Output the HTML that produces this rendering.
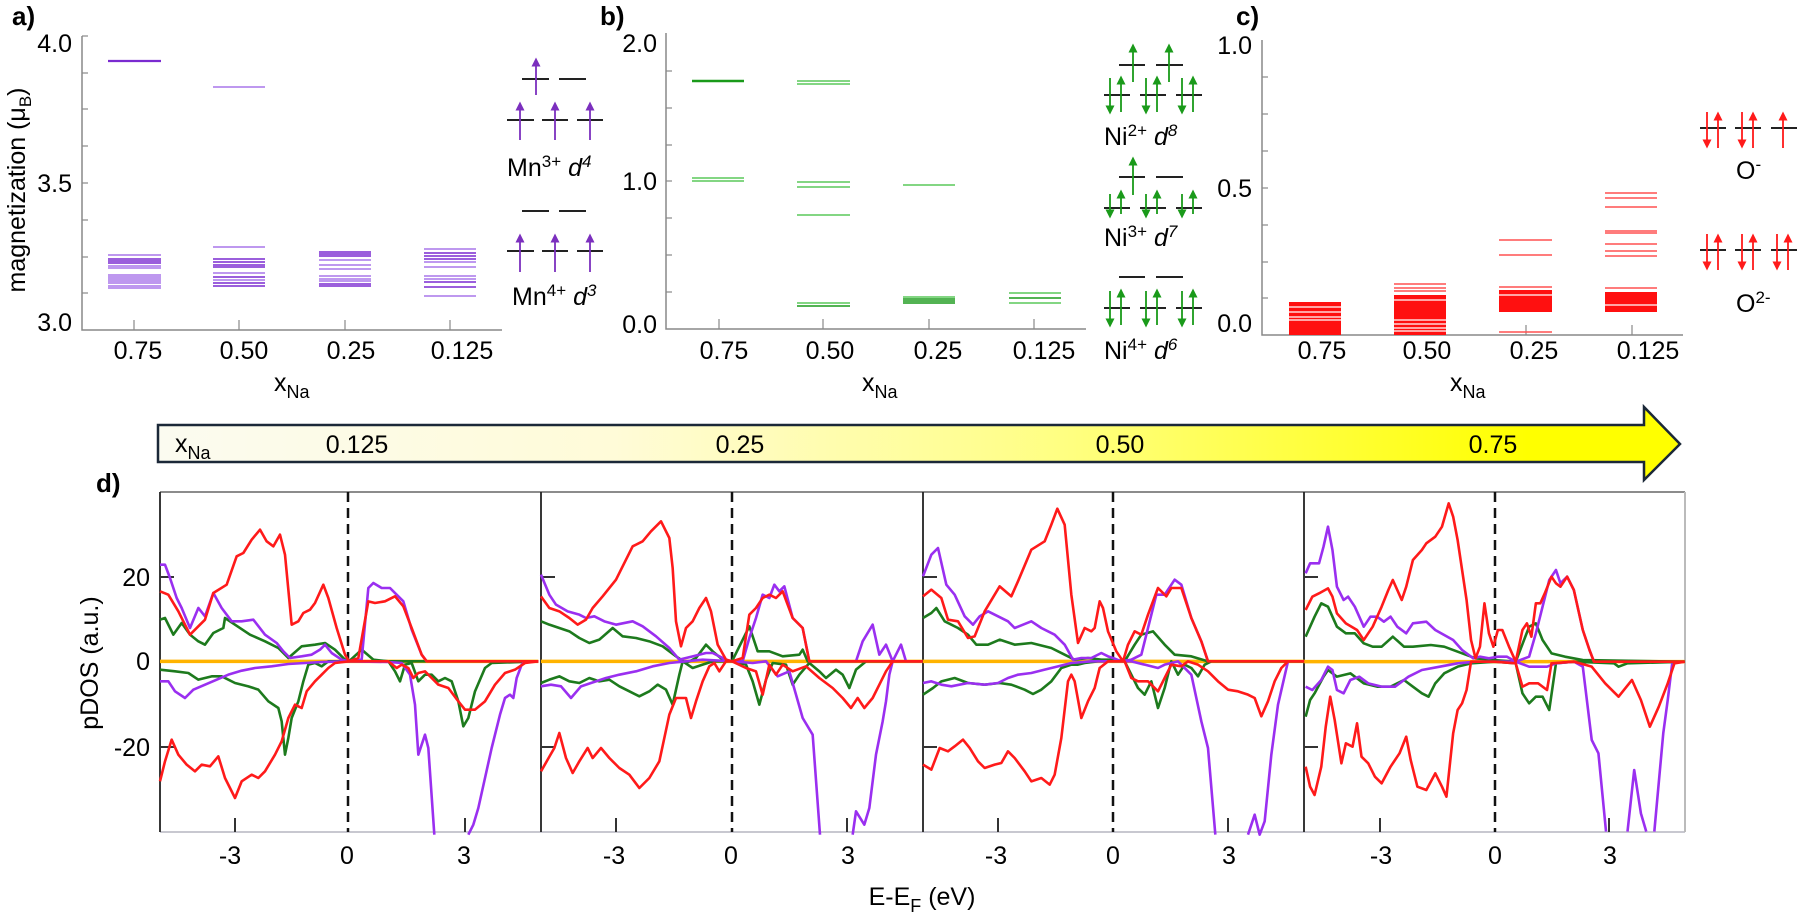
<!DOCTYPE html>
<html><head><meta charset="utf-8">
<style>
html,body{margin:0;padding:0;background:#fff;}
svg{display:block;font-family:"Liberation Sans",Arial,sans-serif;}
.t{font-size:25px;fill:#000;}
.lb{font-size:26px;font-weight:bold;fill:#000;}
.c{stroke-width:2.6;fill:none;vector-effect:non-scaling-stroke;stroke-linejoin:round;}
.r{stroke:#ff1a1a}.p{stroke:#9a2ff0}.g{stroke:#1d7a1d}.o{stroke:#ffb300;stroke-width:3.5}
.ax{stroke:#888;stroke-width:1.5;fill:none}
</style></head><body>
<svg width="1801" height="913" viewBox="0 0 1801 913">
<defs>
<marker id="mp" viewBox="0 0 10 10" refX="5" refY="5" markerWidth="9" markerHeight="9" orient="auto" markerUnits="userSpaceOnUse"><path d="M0,0 L10,5 L0,10 z" fill="#7b2fbe"/></marker>
<marker id="mg" viewBox="0 0 10 10" refX="5" refY="5" markerWidth="9" markerHeight="9" orient="auto" markerUnits="userSpaceOnUse"><path d="M0,0 L10,5 L0,10 z" fill="#1a9a1a"/></marker>
<marker id="mr" viewBox="0 0 10 10" refX="5" refY="5" markerWidth="9" markerHeight="9" orient="auto" markerUnits="userSpaceOnUse"><path d="M0,0 L10,5 L0,10 z" fill="#ff1a1a"/></marker>
<linearGradient id="yg" x1="0" x2="1" y1="0" y2="0">
<stop offset="0" stop-color="#fbfbf0"/><stop offset="0.3" stop-color="#fffbd8"/><stop offset="0.6" stop-color="#ffff80"/><stop offset="0.9" stop-color="#ffff00"/><stop offset="1" stop-color="#ffff00"/></linearGradient>
</defs>

<!-- ===== Panel a ===== -->
<text class="lb" x="12" y="25">a)</text>
<path class="ax" d="M82,36 V330 H502"/>
<g stroke="#888" stroke-width="1.2">
<line x1="82" y1="36" x2="88" y2="36"/><line x1="82" y1="73" x2="88" y2="73"/><line x1="82" y1="109" x2="88" y2="109"/><line x1="82" y1="146" x2="88" y2="146"/><line x1="82" y1="183" x2="88" y2="183"/><line x1="82" y1="220" x2="88" y2="220"/><line x1="82" y1="257" x2="88" y2="257"/><line x1="82" y1="293" x2="88" y2="293"/>
<line x1="134" y1="330" x2="134" y2="320"/><line x1="239" y1="330" x2="239" y2="320"/><line x1="345" y1="330" x2="345" y2="320"/><line x1="450" y1="330" x2="450" y2="320"/>
</g>
<text class="t" x="72" y="52" text-anchor="end">4.0</text>
<text class="t" x="72" y="192" text-anchor="end">3.5</text>
<text class="t" x="72" y="331" text-anchor="end">3.0</text>
<text class="t" x="17" y="190" text-anchor="middle" transform="rotate(-90 17 190)" dy="8">magnetization (μ<tspan font-size="17" dy="6">B</tspan><tspan dy="-6">)</tspan></text>
<g class="t" text-anchor="middle"><text x="138" y="359">0.75</text><text x="244" y="359">0.50</text><text x="351" y="359">0.25</text><text x="462" y="359">0.125</text></g>
<text class="t" x="274" y="391">x<tspan font-size="18" dy="7">Na</tspan></text>
<g stroke-width="1.6">
<g stroke="#7a2ad0"><line x1="108" x2="161" y1="61" y2="61" stroke-width="2.2"/>
<line x1="108" x2="161" y1="259" y2="259"/><line x1="108" x2="161" y1="261" y2="261"/><line x1="108" x2="161" y1="263" y2="263"/></g>
<g stroke="#a876ea"><line x1="108" x2="161" y1="255" y2="255"/><line x1="108" x2="161" y1="266" y2="266"/><line x1="108" x2="161" y1="268" y2="268"/><line x1="108" x2="161" y1="275" y2="275"/><line x1="108" x2="161" y1="277" y2="277"/><line x1="108" x2="161" y1="279" y2="279"/><line x1="108" x2="161" y1="281" y2="281"/><line x1="108" x2="161" y1="283" y2="283"/><line x1="108" x2="161" y1="286" y2="286"/><line x1="108" x2="161" y1="288" y2="288"/></g>
<g stroke="#a876ea"><line x1="213" x2="265" y1="87" y2="87"/><line x1="213" x2="265" y1="247" y2="247"/><line x1="213" x2="265" y1="273" y2="273"/><line x1="213" x2="265" y1="280" y2="280"/></g>
<g stroke="#7a2ad0"><line x1="213" x2="265" y1="259" y2="259"/><line x1="213" x2="265" y1="262" y2="262"/><line x1="213" x2="265" y1="265" y2="265"/><line x1="213" x2="265" y1="267" y2="267"/><line x1="213" x2="265" y1="277" y2="277"/><line x1="213" x2="265" y1="283" y2="283"/><line x1="213" x2="265" y1="286" y2="286"/></g>
<g stroke="#7a2ad0"><line x1="319" x2="371" y1="252" y2="252"/><line x1="319" x2="371" y1="254" y2="254"/><line x1="319" x2="371" y1="256" y2="256"/><line x1="319" x2="371" y1="284" y2="284"/><line x1="319" x2="371" y1="286" y2="286"/></g>
<g stroke="#a876ea"><line x1="319" x2="371" y1="260" y2="260"/><line x1="319" x2="371" y1="265" y2="265"/><line x1="319" x2="371" y1="269" y2="269"/><line x1="319" x2="371" y1="276" y2="276"/><line x1="319" x2="371" y1="279" y2="279"/><line x1="319" x2="371" y1="281" y2="281"/></g>
<g stroke="#7a2ad0"><line x1="424" x2="476" y1="253" y2="253"/><line x1="424" x2="476" y1="256" y2="256"/><line x1="424" x2="476" y1="259" y2="259"/><line x1="424" x2="476" y1="282" y2="282"/><line x1="424" x2="476" y1="287" y2="287"/></g>
<g stroke="#a876ea"><line x1="424" x2="476" y1="249" y2="249"/><line x1="424" x2="476" y1="262" y2="262"/><line x1="424" x2="476" y1="267" y2="267"/><line x1="424" x2="476" y1="276" y2="276"/><line x1="424" x2="476" y1="279" y2="279"/><line x1="424" x2="476" y1="296" y2="296"/></g>
</g>
<!-- Mn diagrams -->
<g stroke="#222" stroke-width="2">
<line x1="522" x2="549" y1="79" y2="79"/><line x1="559" x2="586" y1="79" y2="79"/>
<line x1="507" x2="534" y1="120" y2="120"/><line x1="542" x2="568" y1="120" y2="120"/><line x1="577" x2="603" y1="120" y2="120"/>
<line x1="522" x2="549" y1="211" y2="211"/><line x1="559" x2="586" y1="211" y2="211"/>
<line x1="507" x2="534" y1="251" y2="251"/><line x1="542" x2="568" y1="251" y2="251"/><line x1="577" x2="603" y1="251" y2="251"/>
</g>
<g stroke="#7b2fbe" stroke-width="1.8" marker-end="url(#mp)">
<line x1="536" y1="95" x2="536" y2="62"/>
<line x1="520" y1="140" x2="520" y2="106"/><line x1="555" y1="140" x2="555" y2="106"/><line x1="590" y1="140" x2="590" y2="106"/>
<line x1="520" y1="272" x2="520" y2="238"/><line x1="555" y1="272" x2="555" y2="238"/><line x1="590" y1="272" x2="590" y2="238"/>
</g>
<text class="t" x="507" y="176">Mn<tspan font-size="17" dy="-9">3+</tspan><tspan dy="9"> </tspan><tspan font-style="italic">d</tspan><tspan font-size="17" dy="-9" font-style="italic">4</tspan></text>
<text class="t" x="512" y="305">Mn<tspan font-size="17" dy="-9">4+</tspan><tspan dy="9"> </tspan><tspan font-style="italic">d</tspan><tspan font-size="17" dy="-9" font-style="italic">3</tspan></text>

<!-- ===== Panel b ===== -->
<text class="lb" x="600" y="25">b)</text>
<path class="ax" d="M666,33 V329 H1086"/>
<g stroke="#888" stroke-width="1.2">
<line x1="666" y1="71" x2="672" y2="71"/><line x1="666" y1="108" x2="672" y2="108"/><line x1="666" y1="145" x2="672" y2="145"/><line x1="666" y1="181" x2="672" y2="181"/><line x1="666" y1="218" x2="672" y2="218"/><line x1="666" y1="255" x2="672" y2="255"/><line x1="666" y1="292" x2="672" y2="292"/>
<line x1="719" y1="329" x2="719" y2="319"/><line x1="823" y1="329" x2="823" y2="319"/><line x1="929" y1="329" x2="929" y2="319"/><line x1="1034" y1="329" x2="1034" y2="319"/>
</g>
<text class="t" x="657" y="52" text-anchor="end">2.0</text>
<text class="t" x="657" y="190" text-anchor="end">1.0</text>
<text class="t" x="657" y="333" text-anchor="end">0.0</text>
<g class="t" text-anchor="middle"><text x="724" y="359">0.75</text><text x="830" y="359">0.50</text><text x="938" y="359">0.25</text><text x="1044" y="359">0.125</text></g>
<text class="t" x="862" y="391">x<tspan font-size="18" dy="7">Na</tspan></text>
<g stroke-width="1.6">
<g stroke="#1a9a1a"><line x1="692" x2="744" y1="81" y2="81" stroke-width="2.4"/><line x1="903" x2="955" y1="299" y2="299"/><line x1="903" x2="955" y1="301" y2="301"/><line x1="903" x2="955" y1="303" y2="303"/><line x1="797" x2="850" y1="306" y2="306"/><line x1="1009" x2="1061" y1="298" y2="298"/></g>
<g stroke="#5ac85a"><line x1="692" x2="744" y1="178" y2="178"/><line x1="692" x2="744" y1="181" y2="181"/>
<line x1="797" x2="850" y1="81" y2="81"/><line x1="797" x2="850" y1="84" y2="84"/><line x1="797" x2="850" y1="182" y2="182"/><line x1="797" x2="850" y1="187" y2="187"/><line x1="797" x2="850" y1="215" y2="215"/><line x1="797" x2="850" y1="303" y2="303"/>
<line x1="903" x2="955" y1="185" y2="185"/><line x1="903" x2="955" y1="297" y2="297"/>
<line x1="1009" x2="1061" y1="293" y2="293"/><line x1="1009" x2="1061" y1="303" y2="303"/></g>
</g>
<!-- Ni diagrams -->
<g stroke="#222" stroke-width="2">
<line x1="1119" x2="1145" y1="65" y2="65"/><line x1="1156" x2="1183" y1="65" y2="65"/>
<line x1="1104" x2="1130" y1="95" y2="95"/><line x1="1140" x2="1166" y1="95" y2="95"/><line x1="1176" x2="1202" y1="95" y2="95"/>
<line x1="1119" x2="1145" y1="177" y2="177"/><line x1="1156" x2="1183" y1="177" y2="177"/>
<line x1="1104" x2="1130" y1="208" y2="208"/><line x1="1140" x2="1166" y1="208" y2="208"/><line x1="1176" x2="1202" y1="208" y2="208"/>
<line x1="1119" x2="1145" y1="277" y2="277"/><line x1="1156" x2="1183" y1="277" y2="277"/>
<line x1="1104" x2="1130" y1="308" y2="308"/><line x1="1140" x2="1166" y1="308" y2="308"/><line x1="1176" x2="1202" y1="308" y2="308"/>
</g>
<g stroke="#1a9a1a" stroke-width="1.8" marker-end="url(#mg)">
<line x1="1133" y1="82" x2="1133" y2="48"/><line x1="1169" y1="82" x2="1169" y2="48"/>
<line x1="1110" y1="78" x2="1110" y2="110"/><line x1="1121" y1="112" x2="1121" y2="80"/>
<line x1="1146" y1="78" x2="1146" y2="110"/><line x1="1157" y1="112" x2="1157" y2="80"/>
<line x1="1182" y1="78" x2="1182" y2="110"/><line x1="1193" y1="112" x2="1193" y2="80"/>
<line x1="1133" y1="195" x2="1133" y2="161"/>
<line x1="1110" y1="194" x2="1110" y2="214"/><line x1="1121" y1="214" x2="1121" y2="194"/>
<line x1="1146" y1="194" x2="1146" y2="214"/><line x1="1157" y1="214" x2="1157" y2="194"/>
<line x1="1182" y1="194" x2="1182" y2="214"/><line x1="1193" y1="214" x2="1193" y2="194"/>
<line x1="1110" y1="291" x2="1110" y2="323"/><line x1="1121" y1="325" x2="1121" y2="293"/>
<line x1="1146" y1="291" x2="1146" y2="323"/><line x1="1157" y1="325" x2="1157" y2="293"/>
<line x1="1182" y1="291" x2="1182" y2="323"/><line x1="1193" y1="325" x2="1193" y2="293"/>
</g>
<text class="t" x="1104" y="145">Ni<tspan font-size="17" dy="-9">2+</tspan><tspan dy="9"> </tspan><tspan font-style="italic">d</tspan><tspan font-size="17" dy="-9" font-style="italic">8</tspan></text>
<text class="t" x="1104" y="246">Ni<tspan font-size="17" dy="-9">3+</tspan><tspan dy="9"> </tspan><tspan font-style="italic">d</tspan><tspan font-size="17" dy="-9" font-style="italic">7</tspan></text>
<text class="t" x="1104" y="359">Ni<tspan font-size="17" dy="-9">4+</tspan><tspan dy="9"> </tspan><tspan font-style="italic">d</tspan><tspan font-size="17" dy="-9" font-style="italic">6</tspan></text>

<!-- ===== Panel c ===== -->
<text class="lb" x="1236" y="25">c)</text>
<path class="ax" d="M1262,40 V335 H1683"/>
<g stroke="#888" stroke-width="1.2">
<line x1="1262" y1="77" x2="1268" y2="77"/><line x1="1262" y1="114" x2="1268" y2="114"/><line x1="1262" y1="151" x2="1268" y2="151"/><line x1="1262" y1="188" x2="1268" y2="188"/><line x1="1262" y1="225" x2="1268" y2="225"/><line x1="1262" y1="262" x2="1268" y2="262"/><line x1="1262" y1="298" x2="1268" y2="298"/>
<line x1="1315" y1="335" x2="1315" y2="325"/><line x1="1420" y1="335" x2="1420" y2="325"/><line x1="1526" y1="335" x2="1526" y2="325"/><line x1="1632" y1="335" x2="1632" y2="325"/>
</g>
<text class="t" x="1252" y="54" text-anchor="end">1.0</text>
<text class="t" x="1252" y="197" text-anchor="end">0.5</text>
<text class="t" x="1252" y="332" text-anchor="end">0.0</text>
<g class="t" text-anchor="middle"><text x="1322" y="359">0.75</text><text x="1427" y="359">0.50</text><text x="1534" y="359">0.25</text><text x="1648" y="359">0.125</text></g>
<text class="t" x="1450" y="391">x<tspan font-size="18" dy="7">Na</tspan></text>
<g fill="#ff1010">
<rect x="1289" y="302" width="52" height="33"/>
<rect x="1394" y="295" width="52" height="40"/>
<rect x="1499" y="290" width="53" height="22"/>
<rect x="1605" y="292" width="52" height="20"/>
</g>
<g stroke="#fff" stroke-width="1.2">
<line x1="1289" x2="1341" y1="307" y2="307"/><line x1="1289" x2="1341" y1="312" y2="312"/><line x1="1289" x2="1341" y1="317" y2="317"/><line x1="1289" x2="1341" y1="320" y2="320"/>
<line x1="1394" x2="1446" y1="300" y2="300"/><line x1="1394" x2="1446" y1="320" y2="320"/><line x1="1394" x2="1446" y1="324" y2="324"/><line x1="1394" x2="1446" y1="328" y2="328"/><line x1="1394" x2="1446" y1="331" y2="331"/>
<line x1="1499" x2="1552" y1="295" y2="295"/><line x1="1605" x2="1657" y1="305" y2="305"/>
</g>
<g stroke="#ff5050" stroke-width="1.5">
<line x1="1394" x2="1446" y1="284" y2="284"/><line x1="1394" x2="1446" y1="288" y2="288"/><line x1="1394" x2="1446" y1="291" y2="291"/>
<line x1="1499" x2="1552" y1="240" y2="240"/><line x1="1499" x2="1552" y1="255" y2="255"/><line x1="1499" x2="1552" y1="332" y2="332"/><line x1="1499" x2="1552" y1="287" y2="287"/>
<line x1="1605" x2="1657" y1="193" y2="193"/><line x1="1605" x2="1657" y1="198" y2="198"/><line x1="1605" x2="1657" y1="207" y2="207"/><line x1="1605" x2="1657" y1="231" y2="231"/><line x1="1605" x2="1657" y1="233" y2="233"/><line x1="1605" x2="1657" y1="244" y2="244"/><line x1="1605" x2="1657" y1="251" y2="251"/><line x1="1605" x2="1657" y1="256" y2="256"/><line x1="1605" x2="1657" y1="288" y2="288"/>
</g>
<!-- O diagrams -->
<g stroke="#222" stroke-width="2">
<line x1="1700" x2="1726" y1="128" y2="128"/><line x1="1735" x2="1761" y1="128" y2="128"/><line x1="1771" x2="1797" y1="128" y2="128"/>
<line x1="1700" x2="1726" y1="250" y2="250"/><line x1="1735" x2="1761" y1="250" y2="250"/><line x1="1771" x2="1797" y1="250" y2="250"/>
</g>
<g stroke="#ff1a1a" stroke-width="1.8" marker-end="url(#mr)">
<line x1="1707" y1="112" x2="1707" y2="144"/><line x1="1718" y1="148" x2="1718" y2="116"/>
<line x1="1742" y1="112" x2="1742" y2="144"/><line x1="1753" y1="148" x2="1753" y2="116"/>
<line x1="1783" y1="148" x2="1783" y2="116"/>
<line x1="1707" y1="234" x2="1707" y2="266"/><line x1="1718" y1="270" x2="1718" y2="238"/>
<line x1="1742" y1="234" x2="1742" y2="266"/><line x1="1753" y1="270" x2="1753" y2="238"/>
<line x1="1777" y1="234" x2="1777" y2="266"/><line x1="1788" y1="270" x2="1788" y2="238"/>
</g>
<text class="t" x="1736" y="179">O<tspan font-size="17" dy="-9">-</tspan></text>
<text class="t" x="1736" y="312">O<tspan font-size="17" dy="-9">2-</tspan></text>

<!-- ===== Gradient arrow ===== -->
<polygon points="158,425 1644,425 1644,407 1680,444 1644,480 1644,462 158,462" fill="url(#yg)" stroke="#1b2838" stroke-width="2.5" stroke-linejoin="miter"/>
<text class="t" x="175" y="452">x<tspan font-size="18" dy="7">Na</tspan></text>
<g class="t" text-anchor="middle"><text x="357" y="453">0.125</text><text x="740" y="453">0.25</text><text x="1120" y="453">0.50</text><text x="1493" y="453">0.75</text></g>

<!-- ===== Panel d ===== -->
<text class="lb" x="96" y="492">d)</text>
<text class="t" x="90" y="663" text-anchor="middle" transform="rotate(-90 90 663)" dy="8">pDOS (a.u.)</text>
<text class="t" x="150" y="586" text-anchor="end">20</text>
<text class="t" x="150" y="670" text-anchor="end">0</text>
<text class="t" x="150" y="756" text-anchor="end">-20</text>
<text class="t" x="922" y="905" text-anchor="middle">E-E<tspan font-size="18" dy="7">F</tspan><tspan dy="-7"> (eV)</tspan></text>
<g class="t" text-anchor="middle">
<text x="230" y="864">-3</text><text x="347" y="864">0</text><text x="464" y="864">3</text>
<text x="614" y="864">-3</text><text x="731" y="864">0</text><text x="848" y="864">3</text>
<text x="996" y="864">-3</text><text x="1113" y="864">0</text><text x="1229" y="864">3</text>
<text x="1381" y="864">-3</text><text x="1495" y="864">0</text><text x="1610" y="864">3</text>
</g>
<!-- frames -->
<line x1="160" y1="492" x2="1685" y2="492" stroke="#666" stroke-width="1.5"/>
<line x1="160" y1="832" x2="1685" y2="832" stroke="#c8c8d0" stroke-width="2"/>
<line x1="1685" y1="492" x2="1685" y2="832" stroke="#bbb" stroke-width="2"/>
<g stroke="#222" stroke-width="1.8">
<line x1="160" y1="492" x2="160" y2="832"/><line x1="541" y1="492" x2="541" y2="832"/><line x1="923" y1="492" x2="923" y2="832"/><line x1="1304" y1="492" x2="1304" y2="832"/>
</g>
<g stroke="#333" stroke-width="2">
<line x1="160" y1="577" x2="174" y2="577"/><line x1="160" y1="747" x2="174" y2="747"/>
<line x1="541" y1="577" x2="555" y2="577"/><line x1="541" y1="747" x2="555" y2="747"/>
<line x1="923" y1="577" x2="937" y2="577"/><line x1="923" y1="747" x2="937" y2="747"/>
<line x1="1304" y1="577" x2="1318" y2="577"/><line x1="1304" y1="747" x2="1318" y2="747"/>
<line x1="235" y1="832" x2="235" y2="818"/><line x1="465" y1="832" x2="465" y2="818"/>
<line x1="616" y1="832" x2="616" y2="818"/><line x1="847" y1="832" x2="847" y2="818"/>
<line x1="998" y1="832" x2="998" y2="818"/><line x1="1228" y1="832" x2="1228" y2="818"/>
<line x1="1380" y1="832" x2="1380" y2="818"/><line x1="1609" y1="832" x2="1609" y2="818"/>
</g>
<g stroke="#111" stroke-width="2.5" stroke-dasharray="10,6">
<line x1="348" y1="492" x2="348" y2="832"/><line x1="732" y1="492" x2="732" y2="832"/><line x1="1113" y1="492" x2="1113" y2="832"/><line x1="1495" y1="492" x2="1495" y2="832"/>
</g>

<!-- panel 1 curves -->
<g transform="translate(155,488) scale(0.33333)">
<polyline class="c o" points="15,520 1150,520"/>
<polyline class="c g" points="15,395 30,390 55,440 80,405 105,440 130,460 150,470 175,435 205,420 210,390 240,410 285,440 330,460 370,480 400,510 440,475 480,470 510,465 540,485 570,515 582,520 620,485 655,515 700,520 1150,520"/>
<polyline class="c g" points="15,545 60,550 100,555 130,575 170,565 200,565 240,585 280,595 310,605 340,640 370,660 380,700 390,800 400,750 410,690 430,640 445,580 460,530 480,525 500,535 520,520 582,520 700,520 720,550 735,580 750,530 770,525 790,580 810,560 830,560 850,580 870,570 890,580 910,640 925,715 940,690 960,610 990,540 1010,525 1150,520"/>
<polyline class="c p" points="15,230 30,230 45,270 65,330 80,360 105,420 130,360 150,385 175,315 200,360 230,400 260,400 295,395 330,440 365,465 385,490 405,510 440,505 470,500 495,485 510,470 530,495 560,515 582,520 620,515 640,300 655,285 680,300 705,300 725,320 745,340 770,425 800,500 815,520"/>
<polyline class="c p" points="15,580 40,580 60,610 90,630 115,605 150,590 185,575 220,560 260,548 300,540 350,535 400,528 450,525 500,522 582,520 700,522 740,525 765,560 780,650 790,800 810,740 820,780 838,1040"/>
<polyline class="c p" points="940,1040 955,1010 970,960 990,870 1010,780 1035,680 1050,630 1065,620 1075,630 1085,570 1100,530 1110,520 1150,520"/>
<polyline class="c r" points="15,880 30,820 50,755 70,800 95,830 120,850 140,830 165,835 190,805 210,870 240,930 260,880 290,860 310,870 330,850 360,800 380,760 400,690 420,650 440,660 455,610 480,580 500,560 520,540 540,525 582,520 700,520 725,540 740,530 760,540 775,570 790,555 810,550 830,570 850,590 880,600 910,640 930,665 960,665 990,640 1020,590 1050,555 1080,545 1110,525 1150,520"/>
<polyline class="c r" points="15,310 40,320 70,370 105,440 130,415 150,395 175,315 215,290 245,205 265,195 290,155 315,125 335,160 355,175 375,140 390,200 410,410 430,400 445,375 465,365 480,345 505,290 520,330 545,420 570,500 582,520 610,510 640,340 660,345 690,340 720,325 745,355 770,420 800,500 815,520 1150,520"/>
</g>

<!-- panel 2 curves -->
<g transform="translate(536,488) scale(0.33333)">
<polyline class="c o" points="15,520 1160,520"/>
<polyline class="c g" points="15,400 40,410 70,420 100,430 130,450 160,465 190,455 230,420 260,445 300,450 340,460 380,475 420,505 450,525 480,510 510,470 530,490 560,515 588,520 640,415 665,490 700,490 740,505 790,500 800,485 815,520 1160,520"/>
<polyline class="c g" points="15,585 40,575 70,565 100,580 130,585 160,570 190,580 220,575 250,595 280,610 310,625 340,610 365,590 390,605 410,650 430,560 440,520 470,540 500,530 530,520 588,520 630,530 650,580 670,650 690,575 710,525 750,530 770,590 790,560 820,525 850,550 870,570 900,545 920,560 940,600 960,545 990,520 1060,520"/>
<polyline class="c p" points="15,260 40,320 60,350 95,370 130,380 150,390 175,385 205,400 240,410 290,400 320,415 360,445 400,480 430,515 470,505 510,495 530,495 550,505 570,515 588,520 620,520 640,450 660,390 680,320 700,330 715,290 730,310 745,295 770,390 800,420 820,520 960,520 980,460 1010,410 1030,500 1050,470 1070,520 1095,470 1110,520 1160,520"/>
<polyline class="c p" points="15,595 45,590 75,595 105,630 135,595 165,585 210,570 250,560 300,550 350,535 400,525 450,520 500,515 588,520 650,525 690,520 725,565 760,550 780,620 800,690 830,740 852,1040"/>
<polyline class="c p" points="950,1040 960,970 985,1010 1000,960 1020,800 1040,700 1050,640 1060,560 1070,520"/>
<polyline class="c r" points="15,850 35,815 55,780 70,735 90,810 110,855 130,820 155,780 170,810 195,780 220,810 250,840 280,860 310,900 340,870 370,820 385,750 400,680 420,630 450,630 465,690 480,640 500,580 520,535 535,525 550,550 570,520 588,520 630,540 660,550 680,620 700,530 720,560 740,530 770,550 810,535 850,570 890,600 920,630 945,660 965,630 985,660 1010,630 1030,590 1050,550 1070,520 1160,520"/>
<polyline class="c r" points="15,325 40,360 70,370 100,390 125,410 150,395 170,360 200,325 240,275 290,175 320,160 345,130 375,100 400,150 410,240 420,400 435,475 450,420 470,400 490,360 510,330 525,370 545,470 570,515 588,520 620,510 640,380 660,360 680,330 700,320 720,330 740,310 770,390 800,420 820,520 1160,520"/>
</g>

<!-- panel 3 curves -->
<g transform="translate(918,488) scale(0.33333)">
<polyline class="c o" points="15,520 1160,520"/>
<polyline class="c g" points="15,390 40,375 55,360 80,400 120,420 150,440 175,470 210,470 245,455 290,470 340,465 400,480 440,500 470,515 510,510 550,515 585,515 620,520 650,470 670,440 705,430 740,470 770,500 820,505 870,520 1160,520"/>
<polyline class="c g" points="15,620 45,600 70,580 110,570 150,585 200,590 245,585 280,590 320,605 345,618 370,605 400,580 430,540 460,530 480,530 500,525 540,520 620,520 640,560 660,600 680,620 700,580 720,660 740,600 760,520 780,560 800,530 820,540 840,565 860,530 880,520 1160,520"/>
<polyline class="c p" points="15,265 40,200 60,180 85,290 110,320 140,385 165,410 185,385 210,370 240,385 270,400 290,420 340,400 370,420 410,440 440,470 465,515 490,510 520,510 550,495 570,505 585,510 610,520 640,515 670,500 690,420 715,320 740,320 770,275 790,290 820,390 850,460 870,520"/>
<polyline class="c p" points="15,585 40,580 70,590 100,595 150,585 200,590 240,585 270,570 300,560 340,555 380,545 420,535 460,525 520,520 585,520 640,520 680,530 720,540 740,530 760,525 780,520 820,560 850,700 870,780 892,1040"/>
<polyline class="c p" points="990,1040 1010,980 1025,1040 1040,1000 1060,800 1080,650 1110,520"/>
<polyline class="c r" points="15,830 40,845 65,780 90,790 110,775 135,755 155,780 180,820 200,840 230,830 250,825 270,790 290,810 320,850 340,880 370,870 395,890 410,860 430,750 450,580 460,560 470,580 490,690 510,640 530,600 545,540 570,520 620,520 640,570 660,580 690,580 720,610 740,570 760,530 790,535 810,520 840,530 870,550 900,580 930,605 960,610 990,620 1010,630 1030,685 1050,640 1070,580 1090,540 1110,520 1160,520"/>
<polyline class="c r" points="15,325 40,305 70,330 90,395 120,400 150,450 170,445 200,370 245,295 280,325 300,280 340,185 380,160 400,110 418,62 440,110 460,320 480,465 500,420 520,430 530,420 545,340 555,360 570,430 595,490 615,520 630,470 650,430 670,440 690,380 720,300 745,325 760,300 790,300 820,390 850,460 870,520 1160,520"/>
</g>

<!-- panel 4 curves -->
<g transform="translate(1100,400) scale(0.44703,0.33333)">
<polyline class="c o" points="457,785 1308,785"/>
<polyline class="c g" points="460,710 480,650 495,610 510,620 530,680 550,700 570,700 590,730 610,740 630,740 655,710 680,740 700,740 740,735 770,740 810,760 840,775 880,780 930,785 960,680 975,670 990,720 1010,760 1040,770 1080,780 1308,785"/>
<polyline class="c g" points="460,950 470,900 480,880 500,830 510,810 530,830 560,820 590,850 620,860 650,860 680,840 700,860 720,880 735,890 750,850 770,820 800,800 830,790 883,785 930,790 945,880 960,910 975,890 990,890 1005,930 1020,790 1060,785 1150,790 1160,800 1180,790 1308,785"/>
<polyline class="c p" points="460,520 470,490 490,490 500,440 510,380 520,450 530,560 545,600 555,590 570,620 590,680 605,650 620,650 635,665 650,650 665,680 685,700 700,670 730,665 750,690 770,705 790,720 810,750 835,775 850,770 870,775 890,770 910,770 930,785 960,770 975,700 990,620 1005,540 1020,510 1030,550 1045,530 1060,570 1080,690 1095,750 1105,785"/>
<polyline class="c p" points="460,860 475,870 495,840 510,800 520,810 530,870 545,880 560,840 580,830 600,850 630,860 660,860 690,830 720,810 760,800 800,790 840,785 930,785 960,800 1000,800 1020,790 1060,785 1080,800 1100,1020 1115,1060 1132,1295"/>
<polyline class="c p" points="1180,1295 1195,1110 1210,1240 1222,1295"/>
<polyline class="c p" points="1240,1295 1260,1000 1270,900 1280,790"/>
<polyline class="c r" points="460,1100 470,1160 480,1185 495,1100 505,980 515,890 525,960 540,1090 550,1030 565,1040 575,970 585,1070 600,1090 615,1130 630,1150 650,1100 670,1060 685,1010 695,1080 710,1160 730,1170 750,1120 765,1160 775,1190 790,1000 800,930 810,910 820,870 830,785 883,785 930,790 945,860 960,850 980,850 1000,870 1010,790 1060,785 1100,800 1130,850 1160,890 1190,840 1210,900 1230,980 1250,920 1270,850 1285,790 1308,785"/>
<polyline class="c r" points="460,630 475,590 490,580 510,565 520,590 530,640 550,670 575,690 590,720 610,680 630,620 645,570 655,540 665,570 675,600 685,560 700,480 720,450 730,430 750,410 765,380 780,310 790,350 800,420 810,510 820,600 830,720 840,775 850,740 860,610 870,700 880,740 890,690 900,690 915,740 930,785 945,690 955,670 965,710 975,610 985,610 995,580 1010,530 1020,550 1030,560 1045,530 1060,570 1080,690 1095,750 1105,785 1308,785"/>
</g>
</svg>
</body></html>
